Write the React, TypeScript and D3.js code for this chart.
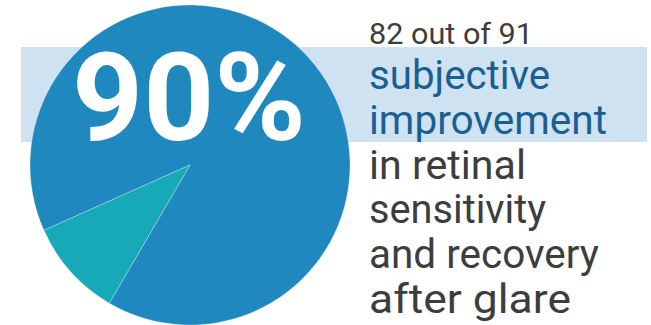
import React from "react";
import * as d3 from "d3";

const categories = ["Improved", "Not improved"];
const values = [82, 9];
const sliceColors = ["#1f88bf", "#17a9b7"];
const headline = "90%";
const introLine = "82 out of 91";
const blueLines = ["subjective", "improvement"];
const greyLines = ["in retinal", "sensitivity", "and recovery", "after glare"];
const lineWidths = [181, 238, 157, 177, 230, 202];

const W = 651;
const H = 325;

export default function App() {
  const cx = 190;
  const cy = 165;
  const r = 160;
  const start = (245.9 * Math.PI) / 180;
  const pie = d3
    .pie<number>()
    .sort(null)
    .startAngle(start)
    .endAngle(start + 2 * Math.PI)(values);
  const arc = d3.arc<d3.PieArcDatum<number>>().innerRadius(0).outerRadius(r);

  const textFont = "Roboto, 'Liberation Sans', sans-serif";
  const lines = [...blueLines, ...greyLines];
  const baseline0 = 89;
  const step = 44.8;

  return (
    <svg
      width={W}
      height={H}
      viewBox={`0 0 ${W} ${H}`}
      style={{ position: "absolute", left: 0, top: 0, background: "#ffffff" }}
    >
      <rect x={21} y={47} width={626} height={95} fill="#cfe2f2" />
      <g transform={`translate(${cx},${cy})`}>
        {pie.map((d, i) => (
          <path
            key={categories[i]}
            d={arc(d) || ""}
            fill={sliceColors[i]}
            stroke="rgba(255,255,255,0.35)"
            strokeWidth={0.8}
          />
        ))}
      </g>
      <text
        x={72}
        y={140}
        fill="#ffffff"
        fontFamily="Roboto, 'DejaVu Sans', sans-serif"
        fontWeight={700}
        fontSize={122}
        textLength={234}
        lengthAdjust="spacingAndGlyphs"
      >
        {headline}
      </text>
      <text
        x={369}
        y={44}
        fill="#3d3d3d"
        fontFamily={textFont}
        fontSize={29}
        textLength={164}
        lengthAdjust="spacingAndGlyphs"
      >
        {introLine}
      </text>
      {lines.map((t, i) => (
        <text
          key={t}
          x={369}
          y={baseline0 + i * step}
          fill={i < blueLines.length ? "#1a5f91" : "#3d3d3d"}
          fontFamily={textFont}
          fontSize={40}
          textLength={lineWidths[i]}
          lengthAdjust="spacingAndGlyphs"
        >
          {t}
        </text>
      ))}
    </svg>
  );
}
